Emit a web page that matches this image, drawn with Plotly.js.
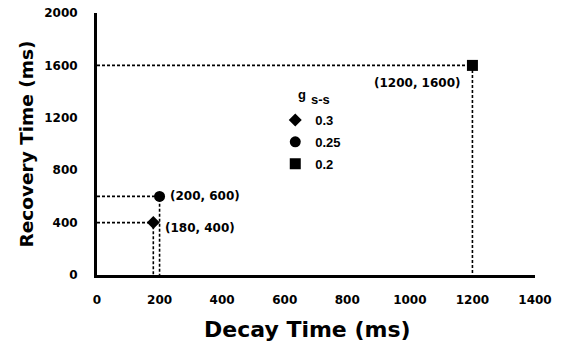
<!DOCTYPE html>
<html>
<head>
<meta charset="utf-8">
<script src="https://cdn.plot.ly/plotly-3.0.1.min.js"></script>
<style>html,body{margin:0;padding:0;background:#fff}#chart{width:561px;height:350px}</style>
</head>
<body>
<div id="chart"></div>
<script>
const gLabels = ['0.3', '0.25', '0.2'];
const decayTime = [180, 200, 1200];
const recoveryTime = [400, 600, 1600];
const symbols = ['diamond', 'circle', 'square'];
const pointLabels = ['(180, 400)', '(200, 600)', '(1200, 1600)'];
const xTicks = [0, 200, 400, 600, 800, 1000, 1200, 1400];
const yTicks = [0, 400, 800, 1200, 1600, 2000];
const xTitle = 'Decay Time (ms)';
const yTitle = 'Recovery Time (ms)';

const traces = [];
// dotted guide lines
for (let i = 0; i < decayTime.length; i++) {
  traces.push({
    x: [0, decayTime[i], decayTime[i]],
    y: [recoveryTime[i], recoveryTime[i], 0],
    mode: 'lines',
    line: {color: '#000', width: 1.6, dash: '3px,2px'},
    showlegend: false,
    hoverinfo: 'skip'
  });
}
for (let i = 0; i < decayTime.length; i++) {
  traces.push({
    x: [decayTime[i]],
    y: [recoveryTime[i]],
    mode: 'markers',
    name: gLabels[i],
    legendgroup: 'g' + i,
    marker: {symbol: symbols[i], color: '#000', size: symbols[i] === 'diamond' ? 10 : 11}
  });
}

const lblFont = {family: 'DejaVu Sans', size: 12, color: '#000', weight: 'bold'};
const legFont = {family: 'Liberation Sans', size: 13, color: '#000', weight: 'bold'};

const annotations = [
  {x: decayTime[0], y: recoveryTime[0], text: pointLabels[0], xanchor: 'left', yanchor: 'middle', xshift: 10, yshift: -5},
  {x: decayTime[1], y: recoveryTime[1], text: pointLabels[1], xanchor: 'left', yanchor: 'middle', xshift: 8, yshift: 0},
  {x: decayTime[2], y: recoveryTime[2], text: pointLabels[2], xanchor: 'right', yanchor: 'top', xshift: -9, yshift: -9}
].map(a => Object.assign(a, {xref: 'x', yref: 'y', showarrow: false, font: lblFont}));

// legend title "g s-s"
annotations.push({xref: 'paper', yref: 'paper', x: 0.468, y: 0.69, text: 'g', showarrow: false,
  xanchor: 'center', yanchor: 'middle', font: legFont});
annotations.push({xref: 'paper', yref: 'paper', x: 0.511, y: 0.668, text: 's-s', showarrow: false,
  xanchor: 'center', yanchor: 'middle', font: legFont});

// x axis title (placed slightly left of centre, as in the reference)
annotations.push({xref: 'paper', yref: 'paper', x: 0.4817, y: 0, yshift: -54, text: xTitle, showarrow: false,
  xanchor: 'center', yanchor: 'middle', font: {family: 'DejaVu Sans', size: 22, color: '#000', weight: 'bold'}});

const tickFont = {family: 'DejaVu Sans', size: 12, color: '#000', weight: 'bold'};

const layout = {
  width: 561, height: 350,
  margin: {l: 97, r: 26, t: 12.5, b: 75},
  paper_bgcolor: '#fff', plot_bgcolor: '#fff',
  showlegend: true,
  legend: {
    x: 0.407, y: 0.649, xanchor: 'left', yanchor: 'top',
    traceorder: 'grouped', tracegroupgap: 2,
    bgcolor: 'rgba(0,0,0,0)',
    font: legFont
  },
  xaxis: {
    range: [0, 1400], tickvals: xTicks, ticktext: xTicks.map(String),
    showline: true, linecolor: '#000', linewidth: 3, showgrid: false, zeroline: false,
    ticks: '', ticklabelstandoff: 12, tickfont: tickFont
  },
  yaxis: {
    range: [0, 2000], tickvals: yTicks, ticktext: yTicks.map(String),
    showline: true, linecolor: '#000', linewidth: 3, showgrid: false, zeroline: false,
    ticks: '', ticklabelstandoff: 14, tickfont: tickFont,
    title: {text: yTitle, font: {family: 'DejaVu Sans', size: 18.5, color: '#000', weight: 'bold'}, standoff: 6}
  },
  annotations: annotations
};

Plotly.newPlot('chart', traces, layout, {displayModeBar: false, staticPlot: true});
</script>
</body>
</html>
